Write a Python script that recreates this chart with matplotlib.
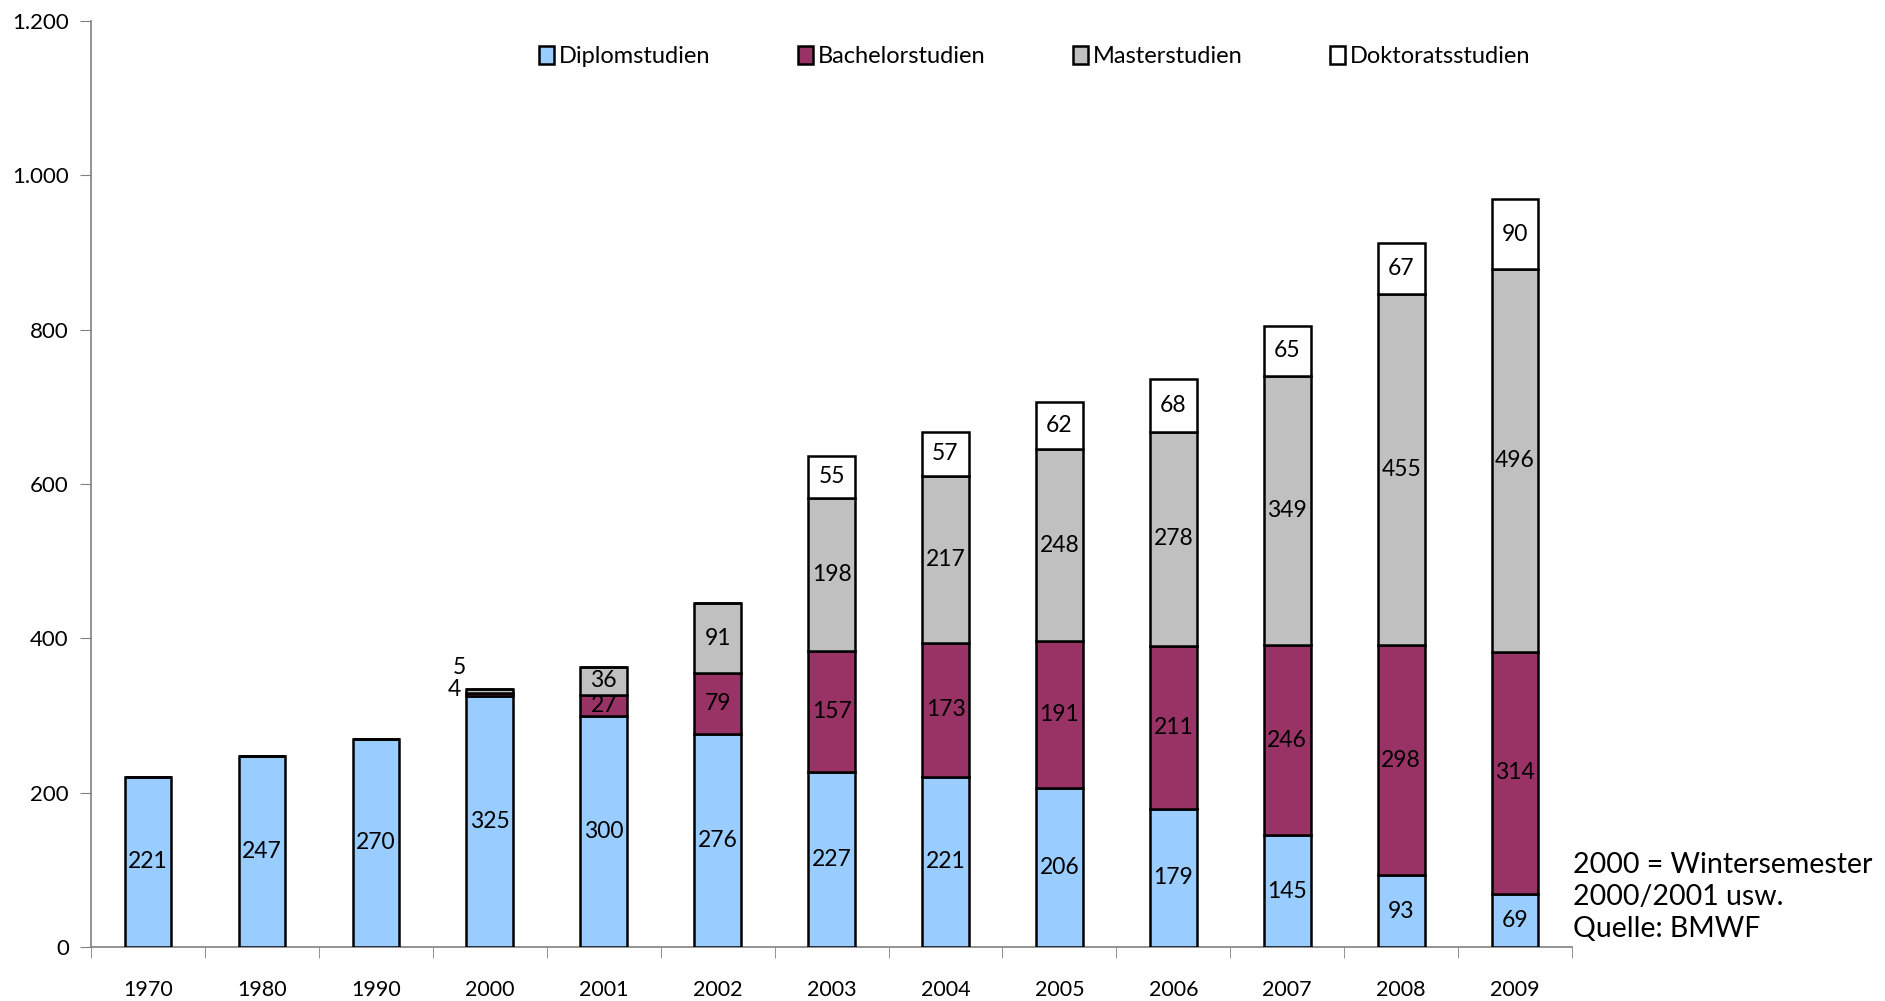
import matplotlib.pyplot as plt
from matplotlib.ticker import FuncFormatter
import numpy as np

plt.rcParams['font.family'] = ['Lato', 'DejaVu Sans']

# Daten
jahre = ['1970', '1980', '1990', '2000', '2001', '2002', '2003',
         '2004', '2005', '2006', '2007', '2008', '2009']
diplom = [221, 247, 270, 325, 300, 276, 227, 221, 206, 179, 145, 93, 69]
bachelor = [0, 0, 0, 4, 27, 79, 157, 173, 191, 211, 246, 298, 314]
master = [0, 0, 0, 5, 36, 91, 198, 217, 248, 278, 349, 455, 496]
doktorat = [0, 0, 0, 0, 0, 0, 55, 57, 62, 68, 65, 67, 90]

serien = [('Diplomstudien', diplom, '#99CCFF'),
          ('Bachelorstudien', bachelor, '#993366'),
          ('Masterstudien', master, '#C0C0C0'),
          ('Doktoratsstudien', doktorat, '#FFFFFF')]

fig = plt.figure(figsize=(18.85, 10.01), dpi=100)
ax = fig.add_axes([0.0483, 0.0539, 0.7857, 0.925])

x = np.arange(len(jahre))
boden = np.zeros(len(jahre))
breite = 0.41
for name, werte, farbe in serien:
    werte = np.array(werte)
    ax.bar(x, werte, breite, bottom=boden, color=farbe, edgecolor='black',
           linewidth=1.8, label=name, zorder=3)
    for i, v in enumerate(werte):
        if v < 10:
            # 0 weglassen, kleine Werte kommen links neben den Balken
            continue
        ax.text(x[i], boden[i] + v / 2, str(v), ha='center', va='center',
                fontsize=16.5, zorder=4)
    boden = boden + werte

# kleine Werte 2000
i2000 = jahre.index('2000')
ax.text(x[i2000] - 0.25, 334, str(bachelor[i2000]), ha='right', va='center', fontsize=16.5)
ax.text(x[i2000] - 0.21, 362, str(master[i2000]), ha='right', va='center', fontsize=16.5)

ax.set_xlim(-0.5, len(jahre) - 0.5)
ax.set_ylim(0, 1200)
ax.set_yticks(np.arange(0, 1201, 200))
ax.yaxis.set_major_formatter(FuncFormatter(lambda v, p: f'{int(v):,}'.replace(',', '.')))

ax.set_xticks(x)
ax.set_xticklabels(jahre)
ax.set_xticks(np.arange(-0.5, len(jahre), 1), minor=True)
ax.tick_params(axis='x', which='major', length=0, pad=24, labelsize=15.5)
ax.tick_params(axis='x', which='minor', length=8, direction='out', color='#808080')
ax.tick_params(axis='y', length=8, direction='out', color='#808080', labelsize=16, pad=8)

for s in ['top', 'right']:
    ax.spines[s].set_visible(False)
for s in ['left', 'bottom']:
    ax.spines[s].set_color('#808080')
    ax.spines[s].set_linewidth(1.2)

ax.legend(loc='center', bbox_to_anchor=(0.637, 0.962), ncol=4, frameon=False,
          fontsize=17, handlelength=0.65, handleheight=0.8, handletextpad=0.2,
          columnspacing=3.7)

fig.text(0.8345, 0.104, '2000 = Wintersemester\n2000/2001 usw.\nQuelle: BMWF',
         ha='left', va='center', fontsize=20.5, linespacing=1.3)

plt.savefig('out.png', dpi=100)
plt.close()
